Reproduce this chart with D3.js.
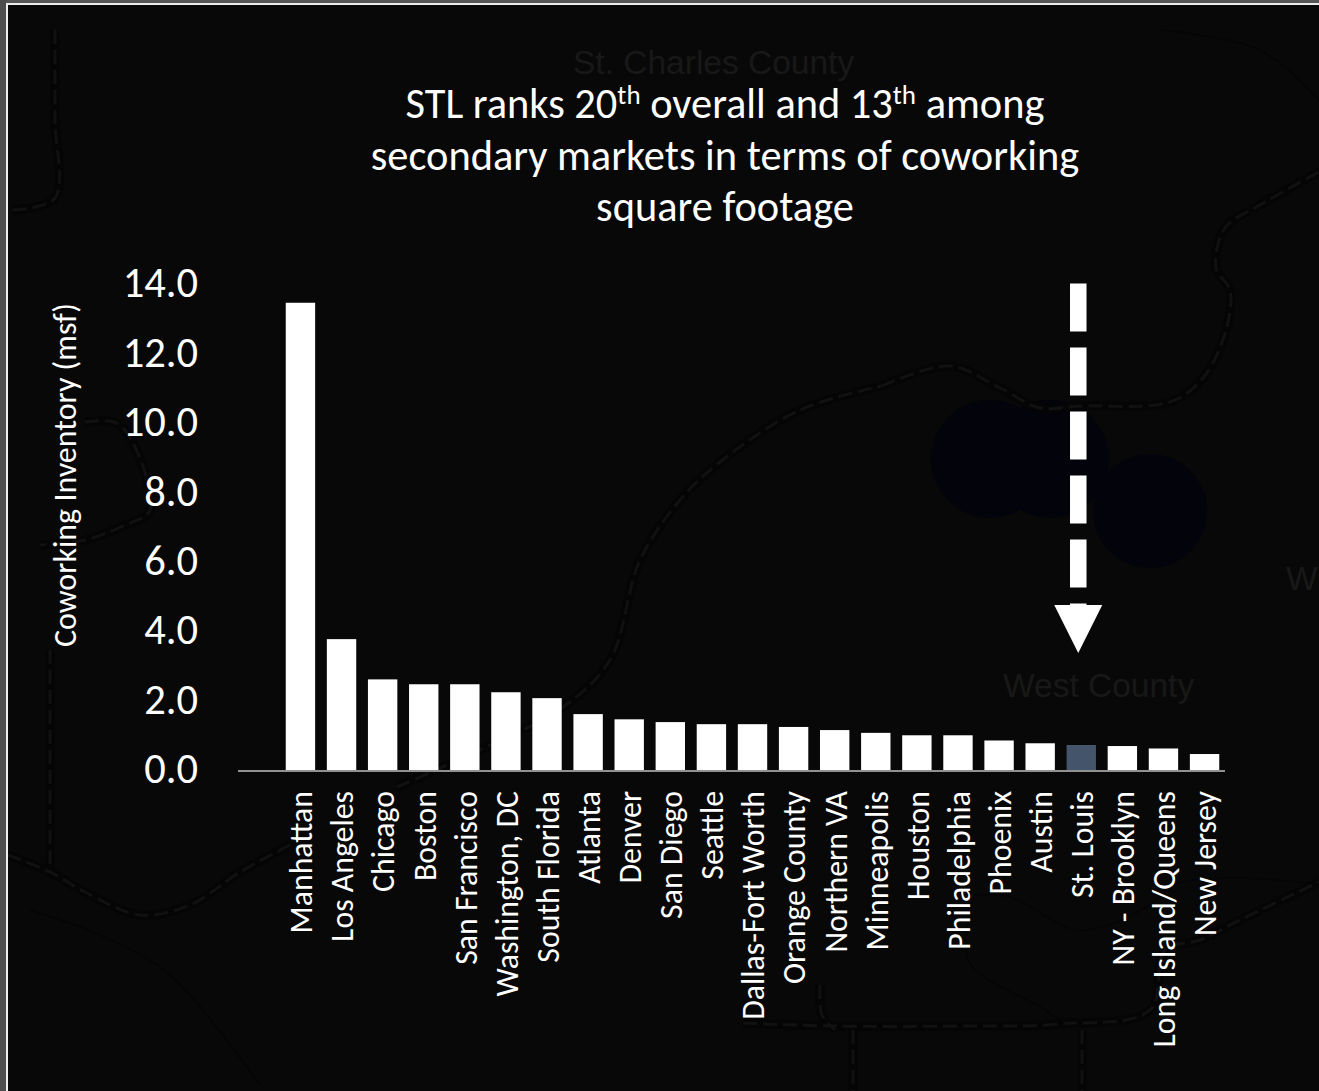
<!DOCTYPE html>
<html>
<head>
<meta charset="utf-8">
<style>
  html, body { margin: 0; padding: 0; background: #080808; overflow: hidden; }
  svg { display: block; }
  text { font-family: Carlito, Calibri, Lato, "Open Sans", sans-serif; fill: #fff; }
</style>
<script src="https://cdn.jsdelivr.net/npm/d3@7/dist/d3.min.js"></script>
</head>
<body>
<svg id="chart" width="1319" height="1091"></svg>
<script>
// Coworking inventory by market, in million square feet
const markets = ["Manhattan","Los Angeles","Chicago","Boston","San Francisco","Washington, DC","South Florida","Atlanta","Denver","San Diego","Seattle","Dallas-Fort Worth","Orange County","Northern VA","Minneapolis","Houston","Philadelphia","Phoenix","Austin","St. Louis","NY - Brooklyn","Long Island/Queens","New Jersey"];
const inventory = [13.46,3.77,2.61,2.47,2.47,2.24,2.07,1.61,1.46,1.38,1.32,1.32,1.24,1.15,1.07,1.0,1.0,0.85,0.77,0.72,0.69,0.62,0.46];
const yTicks = [0,2,4,6,8,10,12,14];
const highlighted = "St. Louis";
const titleLines = [
  [["STL ranks 20"],["th",1],[" overall and 13"],["th",1],[" among"]],
  [["secondary markets in terms of coworking"]],
  [["square footage"]]
];

// Backdrop map: highways, boundaries and place names, barely visible behind the chart
const highways = [
  [[882,386],[950,366],[1000,388],[1040,408],[1080,406],[1170,402],[1203,378],[1226,330],[1230,290],[1216,268],[1225,228],[1260,205],[1319,172]],
  [[397,787],[480,750],[563,707],[610,660],[640,560],[680,500],[720,462],[800,410],[882,386]],
  [[8,855],[50,872],[85,892],[140,915],[190,905],[240,872],[290,845]],
  [[55,30],[55,120],[55,198],[12,210]],
  [[85,422],[120,425],[150,510],[125,525],[85,540],[40,545]],
  [[50,650],[50,790],[50,872]],
  [[743,1023],[830,1026],[960,1026],[1060,1024],[1150,1010],[1165,950],[1200,940],[1240,920],[1319,882]],
  [[820,985],[822,1015],[835,1030]],
  [[853,1030],[853,1091]],
  [[1082,1030],[1082,1091]]
];
const boundaries = [
  [[975,895],[1010,897],[1080,930],[1150,905],[1172,885],[1230,878],[1319,884]],
  [[975,895],[968,960],[1045,1010],[1065,1025]],
  [[30,910],[100,935],[170,975],[260,1085]],
  [[1160,30],[1260,50],[1319,100]]
];
const placeNames = [
  {name:"St. Charles County", x:573, y:74, size:33.5},
  {name:"West County", x:1003, y:697, size:33.5},
  {name:"W", x:1286, y:590, size:33.5}
];
const blobs = [[990,459,59],[1050,459,59],[1150,511,57]];

const svg = d3.select("#chart");

const backdrop = svg.append("g");
backdrop.selectAll("circle").data(blobs).join("circle")
  .attr("cx", d => d[0]).attr("cy", d => d[1]).attr("r", d => d[2])
  .attr("fill", "#03030b");
const curve = d3.line().curve(d3.curveCatmullRom);
backdrop.selectAll("path.casing").data(highways).join("path").attr("class","casing")
  .attr("d", curve).attr("fill","none").attr("stroke","#050505").attr("stroke-width",9);
backdrop.selectAll("path.road").data(highways).join("path").attr("class","road")
  .attr("d", curve).attr("fill","none").attr("stroke","#111111").attr("stroke-width",3)
  .attr("stroke-dasharray","14 6");
backdrop.selectAll("path.bound").data(boundaries).join("path").attr("class","bound")
  .attr("d", curve).attr("fill","none").attr("stroke","#050505").attr("stroke-width",1.5);
backdrop.selectAll("text").data(placeNames).join("text")
  .attr("x", d => d.x).attr("y", d => d.y)
  .style("font-family","'Liberation Sans', sans-serif")
  .style("fill","#181818").style("font-size", d => d.size + "px")
  .text(d => d.name);

// Slide frame: grey sliver and white rule along the top and left edges
svg.append("rect").attr("x",0).attr("y",0).attr("width",1319).attr("height",3).attr("fill","#555");
svg.append("rect").attr("x",0).attr("y",0).attr("width",6).attr("height",1091).attr("fill","#4d4d4d");
svg.append("rect").attr("x",6).attr("y",3).attr("width",1313).attr("height",2).attr("fill","#eee");
svg.append("rect").attr("x",6).attr("y",3).attr("width",2).attr("height",1088).attr("fill","#eee");

// Scales
const x = d3.scaleBand().domain(markets).range([280, 1225]).paddingInner(0.285).paddingOuter(0.14);
const y = d3.scaleLinear().domain([0, 14]).range([770, 284]);

// Bars
svg.append("g").selectAll("rect").data(markets).join("rect")
  .attr("x", d => x(d))
  .attr("width", x.bandwidth())
  .attr("y", (d, i) => y(inventory[i]))
  .attr("height", (d, i) => y(0) - y(inventory[i]))
  .attr("fill", d => d === highlighted ? "#44546a" : "#fff");

// Baseline runs further left than the first bar
svg.append("line").attr("x1",238).attr("x2",1225).attr("y1",771).attr("y2",771)
  .attr("stroke","#bfbfbf").attr("stroke-width",1.5);

// Value axis
const yAxis = svg.append("g").attr("transform","translate(198,0)")
  .call(d3.axisLeft(y).tickValues(yTicks).tickFormat(d3.format(".1f")).tickSize(0).tickPadding(0));
yAxis.select(".domain").remove();
yAxis.selectAll("text").style("font-size","42.5px").attr("dy","0.3em");

// Market axis with vertical labels
const xAxis = svg.append("g").attr("transform","translate(0,771)")
  .call(d3.axisBottom(x).tickSize(0).tickPadding(0));
xAxis.select(".domain").remove();
xAxis.selectAll("text")
  .style("font-size","31.8px")
  .attr("text-anchor","end")
  .attr("transform","rotate(-90)")
  .attr("x",-20).attr("y",1).attr("dy","0.34em");

// Axis title
svg.append("text")
  .attr("transform","translate(76,475) rotate(-90)")
  .attr("text-anchor","middle")
  .style("font-size","32px")
  .text("Coworking Inventory (msf)");

// Headline, with raised ordinal suffixes
const title = svg.append("text").attr("text-anchor","middle").style("font-size","42.4px");
titleLines.forEach((runs, i) => {
  const line = title.append("tspan").attr("x",725).attr("y",118 + i * 51.5);
  runs.forEach(([t, sup], j) => {
    const after = j > 0 && runs[j-1][1];
    const span = line.append("tspan").text(t);
    if (sup) span.style("font-size","27px").attr("dy",-14);
    else if (after) span.attr("dy",14);
  });
});

// Dashed arrow pointing down at St. Louis
const arrowX = x(highlighted) + x.bandwidth() / 2 - 3;
svg.append("line").attr("x1",arrowX).attr("x2",arrowX).attr("y1",283.5).attr("y2",606)
  .attr("stroke","#fff").attr("stroke-width",16.5).attr("stroke-dasharray","48 16");
svg.append("path")
  .attr("d", `M${arrowX-24},605 L${arrowX+24},605 L${arrowX},653 Z`)
  .attr("fill","#fff");
</script>
</body>
</html>
